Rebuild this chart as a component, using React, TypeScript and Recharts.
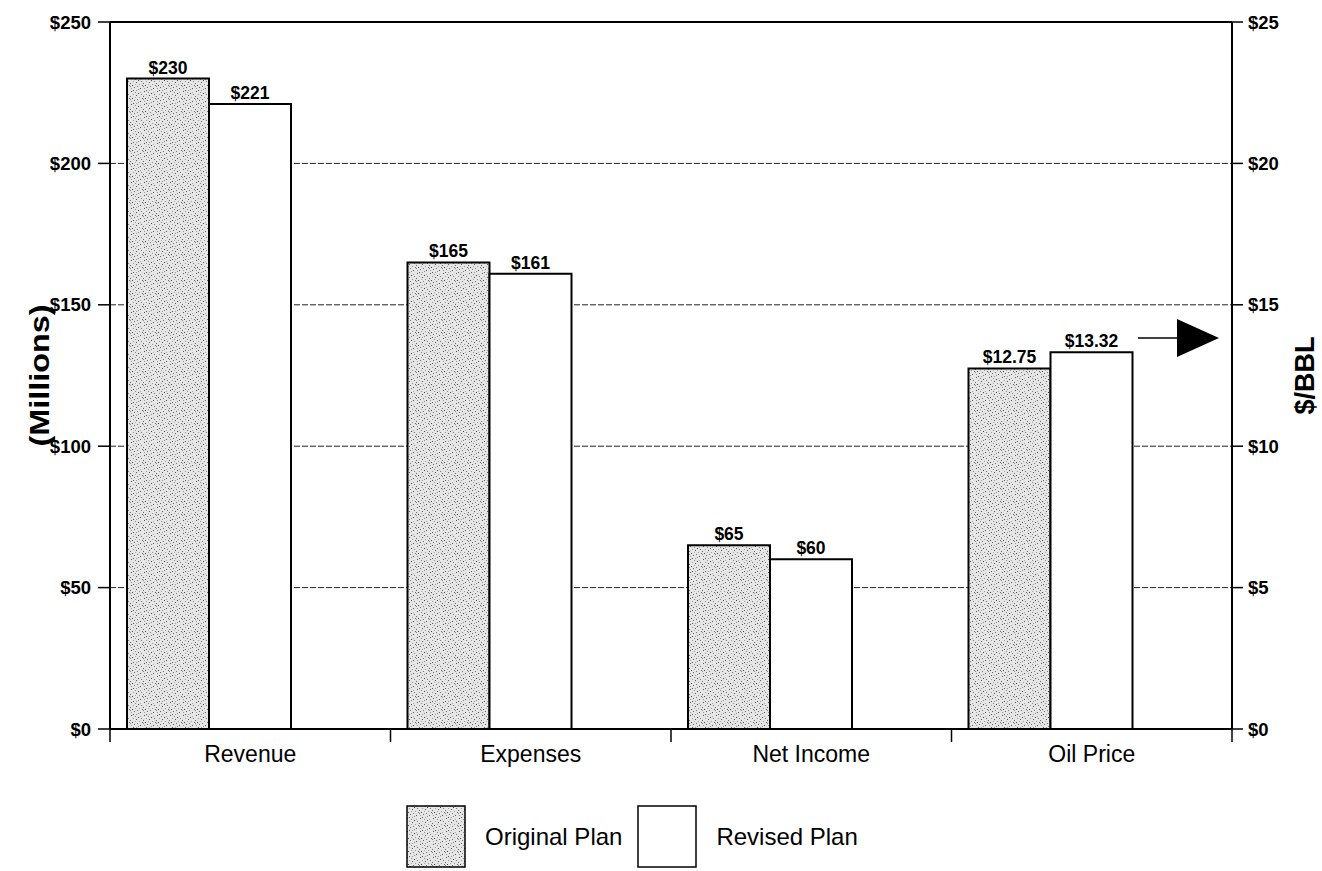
import React from "react";
import {
  ComposedChart,
  Bar,
  XAxis,
  YAxis,
  CartesianGrid,
  ReferenceLine,
  LabelList,
  Label,
} from "recharts";

const categories = ["Revenue", "Expenses", "Net Income", "Oil Price"];
// $ millions (left axis)
const originalMillions = [230, 165, 65, null];
const revisedMillions = [221, 161, 60, null];
// $ per barrel (right axis)
const originalPrice = [null, null, null, 12.75];
const revisedPrice = [null, null, null, 13.32];

const millionTicks = [0, 50, 100, 150, 200, 250];
const priceTicks = [0, 5, 10, 15, 20, 25];
const seriesNames = ["Original Plan", "Revised Plan"];

const FONT = '"Liberation Sans", Arial, sans-serif';
const W = 1322;
const H = 871;
const X_TICK_SIZE = 6;
const X_TICK_MARGIN = 11;

const data = categories.map((name, i) => ({
  name,
  origM: originalMillions[i],
  revM: revisedMillions[i],
  origP: originalPrice[i],
  revP: revisedPrice[i],
}));

// speckle texture for the "original" bars
const DOTS: [number, number, string][] = [
  [1, 0, "#555"], [5, 1, "#888"], [8, 2, "#444"], [3, 3, "#999"],
  [0, 5, "#666"], [6, 4, "#555"], [9, 6, "#999"], [2, 7, "#444"],
  [7, 8, "#777"], [4, 9, "#666"], [10, 10, "#555"], [1, 10, "#999"],
  [11, 3, "#777"], [5, 6, "#aaa"], [8, 11, "#888"], [3, 12, "#555"],
  [12, 7, "#666"], [6, 12, "#999"], [10, 1, "#aaa"], [0, 8, "#888"],
];

function Stipple({ id }: { id: string }) {
  return (
    <pattern id={id} width={13} height={13} patternUnits="userSpaceOnUse">
      <rect width={13} height={13} fill="#e6e6e6" />
      {DOTS.map(([x, y, c], i) => (
        <rect key={i} x={x} y={y} width={1} height={1} fill={c} />
      ))}
    </pattern>
  );
}

const money = (v: any) => (v ? `$${v}` : "");
const price = (v: any) => (v ? `$${Number(v).toFixed(2)}` : "");

const tickStyle = { fill: "#000", fontSize: 18.5, fontWeight: 700, fontFamily: FONT };
const labelStyle = { fill: "#000", fontSize: 17.5, fontWeight: 700, fontFamily: FONT };

// category label plus a tick mark at the band's left edge (and right edge for the last one)
function CategoryTick(props: any) {
  const { x, y, payload, index, visibleTicksCount } = props;
  const half = payload.offset || 0;
  const axisY = y - X_TICK_SIZE - X_TICK_MARGIN;
  const isLast = index === visibleTicksCount - 1;
  return (
    <g>
      <line x1={x - half} y1={axisY} x2={x - half} y2={axisY + 13} stroke="#000" strokeWidth={1.5} />
      {isLast && (
        <line x1={x + half} y1={axisY} x2={x + half} y2={axisY + 13} stroke="#000" strokeWidth={1.5} />
      )}
      <text x={x} y={y} dy="0.71em" textAnchor="middle" fill="#000" fontSize={23} fontFamily={FONT}>
        {payload.value}
      </text>
    </g>
  );
}

function LeftTitle({ viewBox }: any) {
  const cy = viewBox.y + viewBox.height / 2;
  return (
    <text
      x={39}
      y={cy}
      transform={`rotate(-90 39 ${cy})`}
      textAnchor="middle"
      dominantBaseline="central"
      fontFamily={FONT}
      fontWeight={700}
      fontSize={28}
      textLength={142}
      lengthAdjust="spacingAndGlyphs"
    >
      (Millions)
    </text>
  );
}

function RightTitle({ viewBox }: any) {
  const cy = viewBox.y + viewBox.height / 2;
  const cx = 1305;
  return (
    <text
      x={cx}
      y={cy}
      transform={`rotate(-90 ${cx} ${cy})`}
      textAnchor="middle"
      dominantBaseline="central"
      fontFamily={FONT}
      fontWeight={700}
      fontSize={27}
    >
      $/BBL
    </text>
  );
}

function Swatch({ fill }: { fill: string }) {
  return (
    <svg width={60} height={63} style={{ display: "block" }}>
      <rect x={1} y={1} width={58} height={61} fill={fill} stroke="#000" strokeWidth={1.5} />
    </svg>
  );
}

export default function App() {
  return (
    <div style={{ position: "absolute", left: 0, top: 0, width: W, height: H, background: "#fff" }}>
      <ComposedChart
        width={W}
        height={H}
        data={data}
        margin={{ top: 22, right: 0, bottom: 112, left: 0 }}
        barSize={82}
        barGap={0}
      >
        <defs>
          <Stipple id="stipple" />
        </defs>
        <CartesianGrid
          yAxisId="left"
          vertical={false}
          stroke="#222"
          strokeDasharray="6 2"
        />
        <XAxis
          dataKey="name"
          tickLine={false}
          axisLine={{ stroke: "#000", strokeWidth: 2 }}
          tick={CategoryTick}
          tickSize={X_TICK_SIZE}
          tickMargin={X_TICK_MARGIN}
          interval={0}
          height={30}
        />
        <YAxis
          yAxisId="left"
          domain={[0, 250]}
          ticks={millionTicks}
          tickFormatter={(v) => `$${v}`}
          width={110}
          tickSize={12}
          tickMargin={7}
          tick={tickStyle}
          axisLine={{ stroke: "#000", strokeWidth: 2 }}
          tickLine={{ stroke: "#000", strokeWidth: 1.5 }}
        >
          <Label content={LeftTitle} />
        </YAxis>
        <YAxis
          yAxisId="right"
          orientation="right"
          domain={[0, 25]}
          ticks={priceTicks}
          tickFormatter={(v) => `$${v}`}
          width={90}
          tickSize={11}
          tickMargin={5}
          tick={tickStyle}
          axisLine={{ stroke: "#000", strokeWidth: 2 }}
          tickLine={{ stroke: "#000", strokeWidth: 1.5 }}
        >
          <Label content={RightTitle} />
        </YAxis>
        <ReferenceLine yAxisId="left" y={250} stroke="#000" strokeWidth={2} />

        <Bar yAxisId="left" dataKey="origM" name={seriesNames[0]} stackId="orig" fill="url(#stipple)" stroke="#000" strokeWidth={2} isAnimationActive={false}>
          <LabelList dataKey="origM" position="top" offset={5} formatter={money} style={labelStyle} />
        </Bar>
        <Bar yAxisId="left" dataKey="revM" name={seriesNames[1]} stackId="rev" fill="#fff" stroke="#000" strokeWidth={2} isAnimationActive={false}>
          <LabelList dataKey="revM" position="top" offset={5} formatter={money} style={labelStyle} />
        </Bar>
        <Bar yAxisId="right" dataKey="origP" name={seriesNames[0]} stackId="orig" fill="url(#stipple)" stroke="#000" strokeWidth={2} legendType="none" isAnimationActive={false}>
          <LabelList dataKey="origP" position="top" offset={5} formatter={price} style={labelStyle} />
        </Bar>
        <Bar yAxisId="right" dataKey="revP" name={seriesNames[1]} stackId="rev" fill="#fff" stroke="#000" strokeWidth={2} legendType="none" isAnimationActive={false}>
          <LabelList dataKey="revP" position="top" offset={5} formatter={price} style={labelStyle} />
        </Bar>
        {/* empty third slot keeps each pair left of the category centre */}
        <Bar yAxisId="left" dataKey="slot" fill="none" legendType="none" isAnimationActive={false} />

        {/* pointer to the $/BBL axis */}
        <g>
          <line x1={1138} y1={338} x2={1178} y2={338} stroke="#000" strokeWidth={1.5} />
          <polygon points="1177,319 1219,338 1177,357" fill="#000" />
        </g>
      </ComposedChart>

      <div
        style={{
          position: "absolute",
          left: 406,
          top: 805,
          display: "flex",
          alignItems: "center",
          fontFamily: FONT,
          fontSize: 24,
          color: "#000",
        }}
      >
        <Swatch fill="url(#stipple)" />
        <span style={{ marginLeft: 19, marginRight: 15 }}>{seriesNames[0]}</span>
        <Swatch fill="#fff" />
        <span style={{ marginLeft: 19 }}>{seriesNames[1]}</span>
      </div>
    </div>
  );
}
